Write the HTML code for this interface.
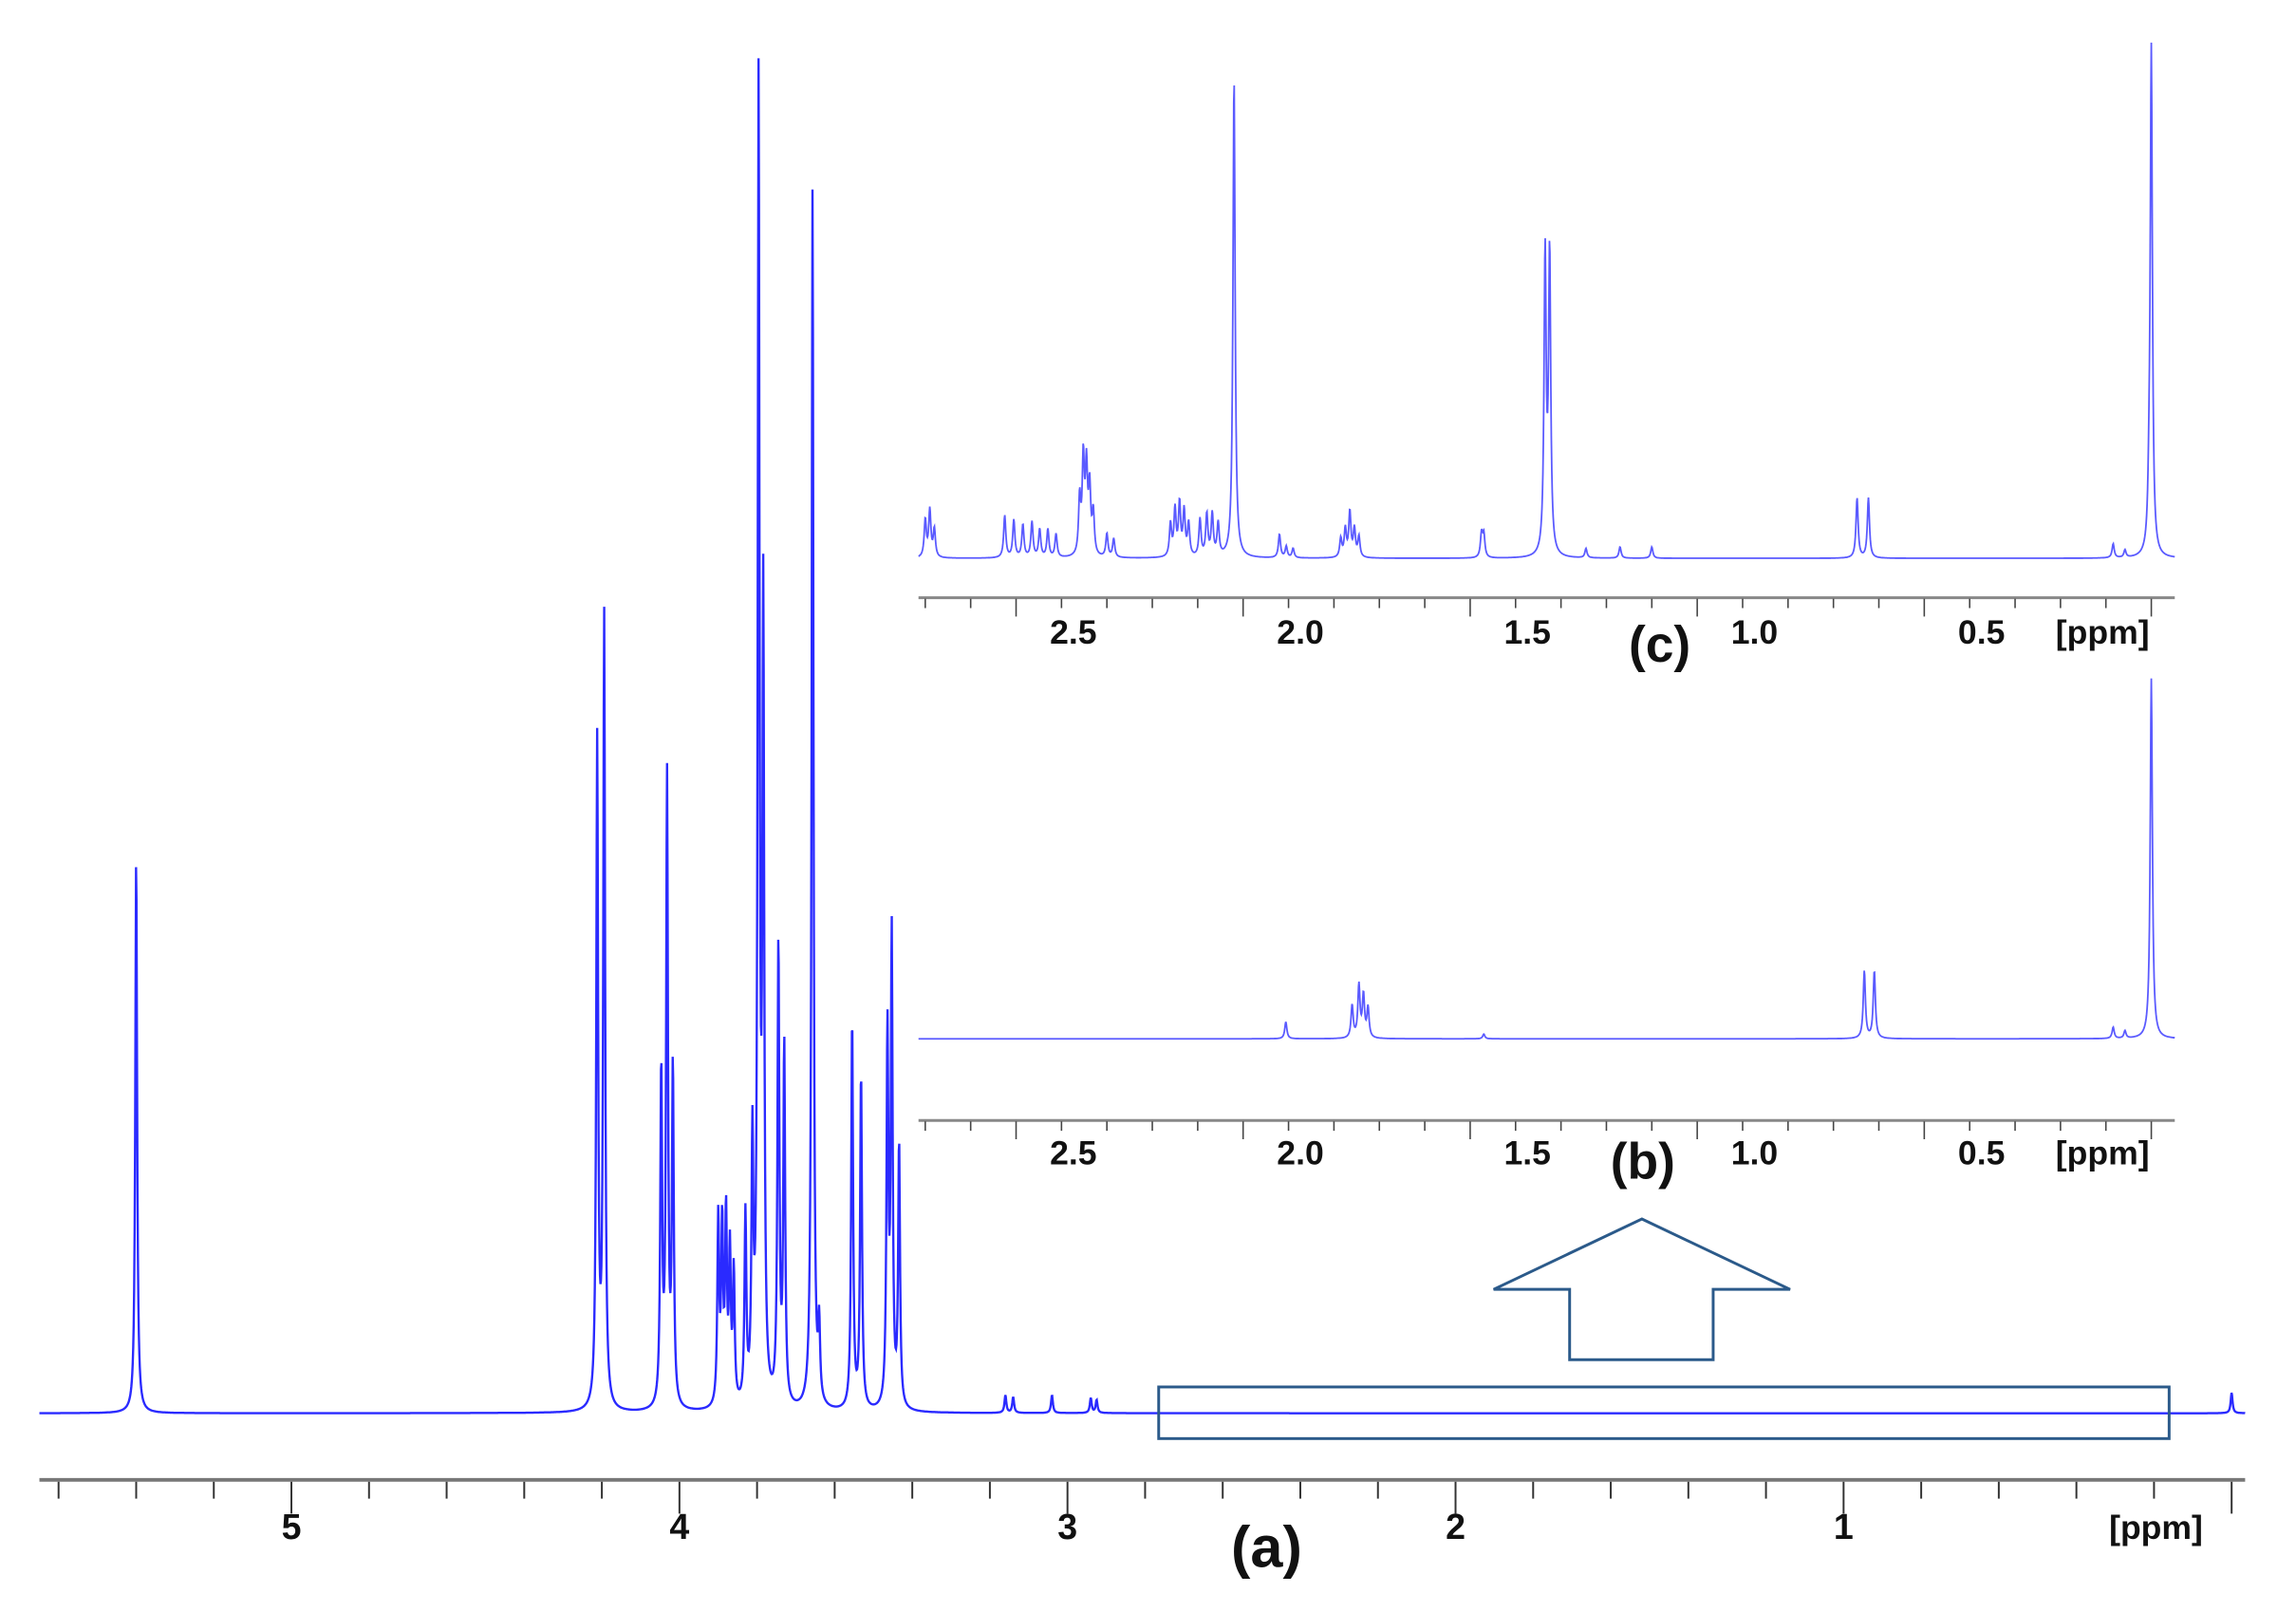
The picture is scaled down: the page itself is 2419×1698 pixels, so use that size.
<!DOCTYPE html>
<html><head><meta charset="utf-8">
<style>
html,body{margin:0;padding:0;background:#fff;}
svg{display:block;}
text{font-family:"Liberation Sans",sans-serif;font-weight:bold;fill:#111;}
</style></head>
<body>
<svg id="chart" width="2419" height="1698" viewBox="0 0 2419 1698" xmlns="http://www.w3.org/2000/svg">
<g transform="scale(0.98847)">
<g id="main"></g>
<g id="insetC"></g>
<g id="insetB"></g>
<rect x="1235" y="1478" width="1077" height="55" fill="none" stroke="#2b5a8a" stroke-width="3"/>
<polygon points="1750,1299 1908,1374 1826,1374 1826,1449 1673,1449 1673,1374 1592,1374" fill="#fff" stroke="#2b5a8a" stroke-width="3"/>
<text x="1350" y="1670" font-size="62" text-anchor="middle">(a)</text>
<text x="1751" y="1256" font-size="54" text-anchor="middle">(b)</text>
<text x="1769" y="705" font-size="54" text-anchor="middle">(c)</text>
</g>
</svg>
<script>
// main spectrum (a) data: ppm positions and peak heights
const mainPpm = [5.400,4.212,4.194,4.047,4.032,4.017,3.900,3.890,3.880,3.870,3.860,3.830,3.812,3.796,3.784,3.745,3.730,3.657,3.640,3.555,3.532,3.464,3.453,3.434,3.160,3.140,3.040,2.940,2.925,0.000];
const mainHeight = [593,710,843,359,668,359,200,190,200,160,140,200,270,1394,835,491,382,1303,78,418,359,398,500,281,19,17,19,16,14,22];
const mainTicks = [5,4,3,2,1];
const mainTickLabels = ["5","4","3","2","1"];
// inset (b) data
const bPpm = [0.000,0.632,0.610,1.760,1.745,1.735,1.725,1.906,0.084,0.058,1.47];
const bHeight = [384,72,72,35,56,45,32,18,12,8,5];
// inset (c) data
const cPpm = [0.000,0.005,2.020,1.335,1.325,0.648,0.623,2.360,2.352,2.345,2.338,2.330,2.160,2.150,2.140,2.130,2.120,2.095,2.080,2.068,2.055,2.700,2.690,2.680,2.525,2.505,2.485,2.465,2.448,2.430,2.412,2.300,2.285,1.920,1.905,1.890,1.785,1.775,1.765,1.755,1.745,1.475,1.470,1.245,1.170,1.100,0.084,0.058];
const cHeight = [540,40,512,320,320,64,64,60,101,90,70,45,35,50,56,48,35,40,45,45,35,40,50,30,45,40,35,38,30,30,25,25,20,25,12,10,20,30,48,30,22,25,24,10,12,12,15,8];
const insetTicks = [2.5,2.0,1.5,1.0,0.5];
const insetTickLabels = ["2.5","2.0","1.5","1.0","0.5"];

const NS="http://www.w3.org/2000/svg";
function mk(tag,attrs,parent){const e=document.createElementNS(NS,tag);for(const k in attrs)e.setAttribute(k,attrs[k]);parent.appendChild(e);return e;}

function spectrum(ppmArr,hArr,xf,x0,x1,base,w){
  let d="";
  for(let px=x0;px<=x1;px+=0.5){
    const p=xf.inv(px);let y=0;
    for(let i=0;i<ppmArr.length;i++){const u=(p-ppmArr[i])/w;y+=hArr[i]/(1+u*u);}
    d+=(px===x0?"M":"L")+px.toFixed(1)+","+(base-y).toFixed(1);
  }
  return d;
}
function scale(x0ppm,pxPerPpm){const f=p=>x0ppm-pxPerPpm*p;f.inv=x=>(x0ppm-x)/pxPerPpm;return f;}

// ---- main panel ----
(function(){
  const g=document.getElementById('main');
  const xf=scale(2378.6,413.6);
  const path=mk('path',{d:spectrum(mainPpm,mainHeight,xf,42,2393,1506,0.0028),fill:'none',stroke:'#2a2aff','stroke-width':2.4},g);
  
  
  const ax=mk('line',{x1:42,y1:1577,x2:2393,y2:1577,stroke:'#777','stroke-width':4},g);
  
  
  for(let k=-1;k<=28;k++){
    const p=k*0.2;const x=xf(p);if(x<40||x>2395)continue;
    const major=Math.abs(p-Math.round(p))<1e-6;
    const t=mk('line',{x1:x,y1:1579,x2:x,y2:1579+(major?34:18),stroke:'#333','stroke-width':2},g);
    
    
  }
  mainTicks.forEach((p,i)=>{
    const t=mk('text',{x:xf(p),y:1640,'font-size':38,'text-anchor':'middle'},g);
    t.textContent=mainTickLabels[i];
    
    
  });
  const u=mk('text',{x:2298,y:1640,'font-size':36,'text-anchor':'middle'},g);
  u.textContent='[ppm]';
  
  
})();

// ---- insets ----
function inset(gid,ppmArr,hArr,base,axisY,labelY,nm){
  const g=document.getElementById(gid);
  const xf=scale(2293,484);
  const path=mk('path',{d:spectrum(ppmArr,hArr,xf,979,2318,base,0.0028),fill:'none',stroke:'#5a5aff','stroke-width':1.8},g);
  
  
  const ax=mk('line',{x1:979,y1:axisY,x2:2318,y2:axisY,stroke:'#888','stroke-width':3},g);
  
  
  for(let k=0;k<=27;k++){
    const p=k*0.1;const x=xf(p);if(x<978)continue;
    const major=(k%5===0);
    const t=mk('line',{x1:x,y1:axisY+1,x2:x,y2:axisY+(major?20:11),stroke:'#444','stroke-width':1.6},g);
    
    
  }
  insetTicks.forEach((p,i)=>{
    const t=mk('text',{x:xf(p)+61,y:labelY,'font-size':36,'text-anchor':'middle'},g);
    t.textContent=insetTickLabels[i];
    
    
  });
  const u=mk('text',{x:2241,y:labelY,'font-size':36,'text-anchor':'middle'},g);
  u.textContent='[ppm]';
  
  
}
inset('insetC',cPpm,cHeight,595,637,686,'inset-c');
inset('insetB',bPpm,bHeight,1107,1194,1241,'inset-b');
</script>
</body></html>
